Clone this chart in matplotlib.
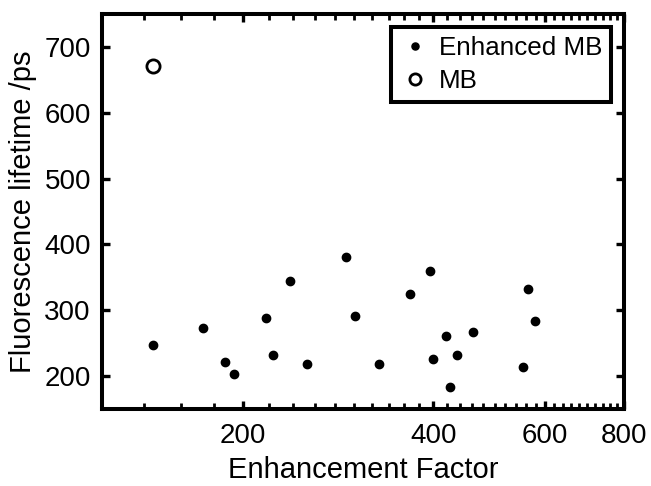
import matplotlib
matplotlib.use("Agg")
import matplotlib.pyplot as plt
from matplotlib.ticker import FixedLocator, MultipleLocator, NullFormatter, FixedFormatter

plt.rcParams['font.family'] = ['Liberation Sans', 'DejaVu Sans']

# Data
enh_x = [144.3, 173.4, 187.5, 194.2, 217.5, 223.0, 237.4, 252.9, 291.5, 301.0,
         328.9, 367.4, 394.8, 400.1, 419.1, 425.8, 435.6, 462.4, 554.3, 564.6, 579.1]
enh_y = [246.9, 273.1, 221.2, 202.5, 287.7, 232.3, 344.7, 217.7, 381.5, 290.8,
         218.6, 324.5, 359.3, 225.2, 261.5, 182.9, 232.3, 267.6, 214.1, 332.1, 283.7]
mb_x = [144.5]
mb_y = [671.6]
x_ticks = [200, 400, 600, 800]
y_ticks = [200, 300, 400, 500, 600, 700]
x_label = "Enhancement Factor"
y_label = "Fluorescence lifetime /ps"

fig = plt.figure(figsize=(6.51, 4.86), dpi=100)
ax = fig.add_axes([102/651, 77/486, 522/651, 395/486])

ax.plot(enh_x, enh_y, 'o', color='black', markersize=6, linestyle='none', label='Enhanced MB')
ax.plot(mb_x, mb_y, 'o', markerfacecolor='white', markeredgecolor='black',
        markeredgewidth=2, markersize=9.5, linestyle='none', label='MB')

ax.set_xscale('log')
ax.set_xlim(120, 800)
ax.set_ylim(150, 750)

ax.xaxis.set_major_locator(FixedLocator(x_ticks))
ax.xaxis.set_major_formatter(FixedFormatter([str(t) for t in x_ticks]))
ax.xaxis.set_minor_locator(MultipleLocator(20))
ax.xaxis.set_minor_formatter(NullFormatter())
ax.yaxis.set_major_locator(FixedLocator(y_ticks))

for s in ax.spines.values():
    s.set_linewidth(2.9)

ax.tick_params(which='major', direction='in', length=6, width=2.4, top=True, right=True,
               labelsize=20, pad=10)
ax.tick_params(axis='y', which='major', pad=8)
ax.tick_params(which='minor', direction='in', length=4, width=2.0, top=True, right=True)
ax.tick_params(axis='y', which='minor', left=False, right=False)

ax.set_xlabel(x_label, fontsize=21, labelpad=5)
ax.set_ylabel(y_label, fontsize=21, labelpad=5)

leg = ax.legend(loc='upper right', fontsize=18.7, frameon=True, fancybox=False,
                framealpha=1, handlelength=1.2, handletextpad=0.3, borderpad=0.35,
                labelspacing=0.33, borderaxespad=0.5, markerscale=0.85)
leg.get_frame().set_edgecolor('black')
leg.get_frame().set_linewidth(2.9)

fig.savefig('out.png', dpi=100)
